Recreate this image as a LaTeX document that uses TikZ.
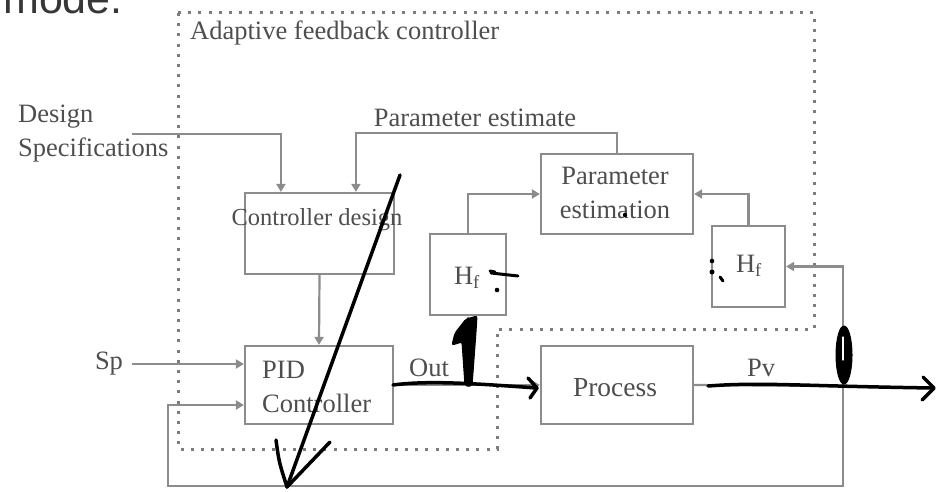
\documentclass[tikz,border=0pt]{standalone}
\usepackage{fontspec}
\setmainfont{Liberation Serif}
\newfontfamily\headfont{Liberation Sans}
\usetikzlibrary{arrows.meta}
\definecolor{linegray}{RGB}{140,140,140}
\definecolor{textgray}{RGB}{78,78,78}
\definecolor{dotgray}{RGB}{125,125,125}
\definecolor{headgray}{RGB}{55,55,55}
\tikzset{
  wire/.style={draw=linegray, line width=2.2pt},
  tip/.style={-{Triangle[length=8pt,width=9pt]}},
  blk/.style={draw=linegray, line width=2.2pt, rectangle, inner sep=0pt},
  lbl/.style={text=textgray, inner sep=0pt, font=\fontsize{26.5}{34}\selectfont},
  boundary/.style={draw=dotgray, line width=3pt, dash pattern=on 3pt off 7.2pt},
  pen/.style={draw=black, line width=3.5pt, line cap=round, line join=round},
  ink/.style={fill=black, draw=black, line width=1pt, line join=round}
}
\begin{document}
\begin{tikzpicture}[x=1pt,y=-1pt]
\clip (0,0) rectangle (936,491);

% heading fragment above the figure
\node[anchor=base west, inner sep=0pt, text=headgray,
      font=\headfont\fontsize{43}{43}\selectfont] (head) at (3,13) {mode.};

% adaptive feedback controller boundary
\draw[boundary] (178,12) -- (814,12) -- (814,329) -- (497,329)
                -- (497,449) -- (178,449) -- cycle;
\node[lbl, anchor=west] (title) at (190,33) {Adaptive feedback controller};

% blocks
\node[blk, minimum width=149pt, minimum height=81pt] (cd)   at (319.5,233.5) {};
\node[lbl, font=\fontsize{24.5}{30}\selectfont] (cdtext) at (317,220) {Controller design};
\node[blk, minimum width=148pt, minimum height=78pt] (pid)  at (319,385) {};
\node[lbl, align=left, anchor=west] (pidtext) at (262,387) {PID\\Controller};
\node[blk, minimum width=152pt, minimum height=78pt] (proc) at (617,385) {};
\node[lbl, font=\fontsize{27.5}{34}\selectfont] (proctext) at (615,388) {Process};
\node[blk, minimum width=152pt, minimum height=80pt] (pe)   at (617,194) {};
\node[lbl, align=center] (petext) at (615,193) {Parameter\\estimation};
\node[blk, minimum width=76pt, minimum height=81pt] (hl)    at (468,274.5) {};
\node[lbl] (hltext) at (467,278) {H\textsubscript{f}};
\node[blk, minimum width=73pt, minimum height=81pt] (hr)    at (748.5,266.5) {};
\node[lbl] (hrtext) at (749,266) {H\textsubscript{f}};

% outer labels
\node[lbl, align=left, anchor=west] (spec) at (18,134) {Design\\Specifications};
\node[lbl] (petitle) at (475,118) {Parameter estimate};
\node[lbl] (sp) at (109,364) {Sp};
\node[lbl] (out) at (429,368) {Out};
\node[lbl] (pv) at (761,368) {Pv};

% connection points
\coordinate (ds) at (132,134);
\coordinate (jn) at (843,386);
\coordinate (lb) at (168,486);
\coordinate (tap) at (pid.east -| hl.south);

% connectors
\draw[wire,tip] (ds) -| ([xshift=37pt]cd.north west);
\draw[wire,tip] (pe.north) -- ++(0,-20) -| ([xshift=112pt]cd.north west);
\draw[wire,tip] (cd.south) -- (pid.north);
\draw[wire,tip] (sp.east -| ds) -- (sp.east -| pid.west);
\draw[wire,tip] (pid.east) -- (proc.west);
\draw[wire,tip] (tap) -- (hl.south);
\draw[wire,tip] (hl.north) |- (pe.west);
\draw[wire,tip] (hr.north) |- (pe.east);
\draw[wire] (proc.east) -- (jn);
\draw[wire,tip] (jn) |- (hr.east);
\draw[wire,tip] (jn) |- (lb) |- ([yshift=-20pt]pid.west);

% hand-drawn pen strokes
\draw[pen] (400,175) -- (287,487);
\draw[pen] (276,440) .. controls (279,462) .. (287,487) -- (330,442);
\draw[pen] (393,385) .. controls (430,380) and (480,384) .. (537,388);
\draw[pen] (528,378) -- (537,388) -- (530,398);
\filldraw[ink, rounded corners=2pt] (465,386) -- (462,342) -- (452,345) -- (455,333)
   -- (466,319) -- (477,316) -- (476,332) -- (472,386) -- cycle;
\draw[pen] (708,386) .. controls (760,382) and (800,386) .. (933,388);
\draw[pen] (923,377) -- (934,388) -- (922,400);
\filldraw[ink] (844,355) ellipse [x radius=8pt, y radius=29pt];
\draw[white, line width=1.3pt, line cap=round] (843,337) -- (843,360);
\draw[pen, line width=3pt] (491,273) -- (518,276);
\draw[pen, line width=3pt] (490,271) -- (495,272);
\fill (497,290) circle (2.3pt);
\fill (712,261) circle (2.3pt);
\fill (712,272) circle (2.5pt);
\draw[pen, line width=3pt] (720,277) -- (723,281);
\fill (625,215) circle (2.2pt);
\end{tikzpicture}
\end{document}
